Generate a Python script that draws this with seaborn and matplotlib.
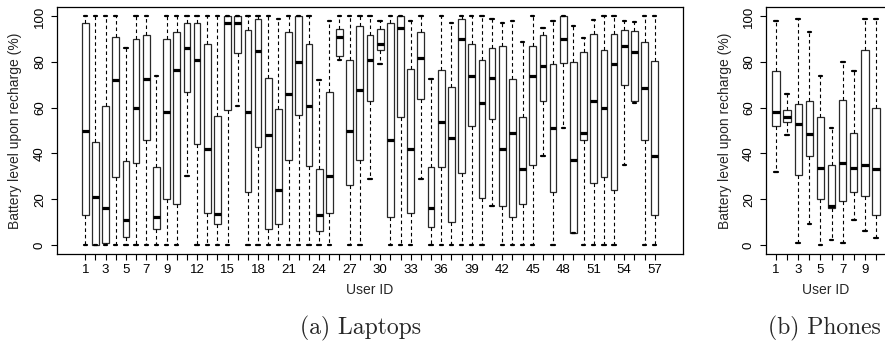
import numpy as np
import pandas as pd
import matplotlib
matplotlib.use("Agg")
import matplotlib.pyplot as plt
import seaborn as sns

# ---------------- data (five-number summaries) -------------
lap_users = list(range(1, 58))
lap_low = [0, 0, 0, 0, 0, 0, 0, 0, 0, 0,
           30, 0, 0, 0, 0, 61, 0, 0, 0, 0,
           0, 0, 0, 0, 0, 81, 0, 0, 29, 79,
           0, 0, 0, 29, 0, 0, 0, 0, 0, 0,
           17, 0, 0, 0, 0, 39, 0, 51, 5, 0,
           0, 0, 0, 35, 62, 0, 0]
lap_q1 = [13, 0, 1, 29.5, 3.5, 36, 46, 7, 20, 18,
          67, 44, 14, 9, 59, 84, 23, 43, 7, 9,
          37, 57, 34.5, 6, 14, 82.5, 26, 37, 63, 85.5,
          12, 56, 14, 64, 8, 34, 10, 31.5, 52, 20.5,
          55, 17, 12, 18, 35, 63, 23, 79.5, 5, 46,
          27, 29.5, 24, 70, 63, 46, 13]
lap_med = [50, 21, 16, 72, 11, 60, 72.5, 12, 58, 76.5,
           86, 81, 42, 13.5, 97, 97, 58, 85, 48, 24,
           66, 80, 61, 13, 30, 91, 50, 68, 81, 88,
           46, 95, 42, 82, 16, 54, 47, 90, 74, 62,
           73, 42, 49, 33, 74, 78.5, 51, 90, 37, 49,
           63, 60, 79, 87, 84.5, 68.5, 39]
lap_q3 = [97, 45, 61, 91, 36.5, 90, 92, 34, 90, 93,
          97, 97, 88, 56.5, 100, 100, 94, 99, 73, 59.5,
          93, 100, 88, 33, 67, 94.5, 81, 96, 92, 94.5,
          97, 100, 77, 93, 34, 76.5, 69, 99, 88, 81,
          86, 87, 72.5, 56, 87, 92, 79, 100, 80, 84.5,
          92.5, 85.5, 92.5, 94, 93.5, 89, 80.5]
lap_high = [100, 100, 100, 100, 86, 100, 100, 74, 100, 100,
            100, 100, 100, 100, 100, 100, 100, 100, 100, 99,
            100, 100, 100, 72, 98, 100, 100, 100, 100, 98,
            100, 100, 98, 100, 72.5, 100, 97, 100, 100, 100,
            99, 97, 98, 89, 100, 95, 98, 100, 96, 90.5,
            98.5, 100, 100, 98, 97.5, 100, 100]
lap_ticklabels = [1, 3, 5, 7, 9, 12, 15, 18, 21, 24, 27, 30, 33, 36,
                  39, 42, 45, 48, 51, 54, 57]

ph_users = list(range(1, 11))
ph_low = [32, 48, 1, 9, 0, 2, 1, 11, 6, 3]
ph_q1 = [52, 54, 30.5, 39, 20, 16, 19, 23, 21.5, 13]
ph_med = [58, 56, 53, 48.5, 33.5, 17, 36, 33.5, 35, 33]
ph_q3 = [76, 59, 61.5, 63, 56, 35, 63.5, 49, 85.5, 60]
ph_high = [98, 66, 99, 93, 74, 51, 80, 76, 99, 99]
ph_ticklabels = [1, 3, 5, 7, 9]

yticks = [0, 20, 40, 60, 80, 100]
ylabel = "Battery level upon recharge (%)"
xlabel = "User ID"
captions = ["(a) Laptops", "(b) Phones"]


def long_table(users, *cols):
    rows = []
    for i, u in enumerate(users):
        for c in cols:
            rows.append((str(u), c[i]))
    return pd.DataFrame(rows, columns=["user", "value"])


lap_df = long_table(lap_users, lap_low, lap_q1, lap_med, lap_q3, lap_high)
ph_df = long_table(ph_users, ph_low, ph_q1, ph_med, ph_q3, ph_high)

sns.set_theme(style="ticks")
plt.rcParams["font.family"] = ["Liberation Sans", "DejaVu Sans"]
plt.rcParams["axes.linewidth"] = 0.9
plt.rcParams["xtick.major.size"] = 4.5
plt.rcParams["ytick.major.size"] = 4.5
plt.rcParams["xtick.major.width"] = 0.8
plt.rcParams["ytick.major.width"] = 0.8

W, H = 885, 355
fig = plt.figure(figsize=(W / 100, H / 100), dpi=100)
top_px, bot_px = 7.3, 254.0
ax1 = fig.add_axes([57 / W, 1 - bot_px / H, (683 - 57) / W, (bot_px - top_px) / H])
ax2 = fig.add_axes([766 / W, 1 - bot_px / H, 120 / W, (bot_px - top_px) / H])


def draw(ax, df, users, labeled, pad_units):
    order = [str(u) for u in users]
    sns.boxplot(data=df, x="user", y="value", order=order, ax=ax,
                whis=(0, 100), width=0.66, color="white",
                linecolor="#2a2a2a", linewidth=0.9, showfliers=False,
                medianprops=dict(color="black", linewidth=2.3,
                                 solid_capstyle="butt"),
                whiskerprops=dict(color="black", linewidth=0.8,
                                  linestyle=(0, (3.2, 2.6))),
                capprops=dict(color="black", linewidth=1.6))
    n = len(users)
    ax.set_xlim(-0.5 - pad_units, n - 0.5 + pad_units)
    ax.set_ylim(-4, 104)
    ax.set_xticks(range(n))
    ax.set_xticklabels([str(u) if u in labeled else "" for u in users],
                       fontsize=9.5)
    ax.set_yticks(yticks)
    ax.set_yticklabels([str(v) for v in yticks], fontsize=9.5,
                       rotation=90, va="center")
    ax.tick_params(axis="x", pad=2.5, colors="black")
    ax.tick_params(axis="y", pad=3.5, colors="black")
    for s in ax.spines.values():
        s.set_visible(True)
        s.set_color("black")
    ax.set_xlabel(xlabel, fontsize=10, va="center")
    ax.set_ylabel(ylabel, fontsize=10, va="center")


draw(ax1, lap_df, lap_users, lap_ticklabels, 0.04 * 57)
draw(ax2, ph_df, ph_users, ph_ticklabels, 0.04 * 10)

ax1.xaxis.set_label_coords(0.5, (bot_px - 290) / (bot_px - top_px))
ax2.xaxis.set_label_coords(0.5, (bot_px - 290) / (bot_px - top_px))
ax1.yaxis.set_label_coords((15.5 - 57) / (683 - 57), 0.5)
ax2.yaxis.set_label_coords((725 - 766) / 120, 0.5)

fig.text(360 / W, 1 - 328 / H, captions[0], family="cmr10", fontsize=17,
         ha="center", va="center")
fig.text(824 / W, 1 - 328 / H, captions[1], family="cmr10", fontsize=17,
         ha="center", va="center")

fig.savefig("out.png", dpi=100)
